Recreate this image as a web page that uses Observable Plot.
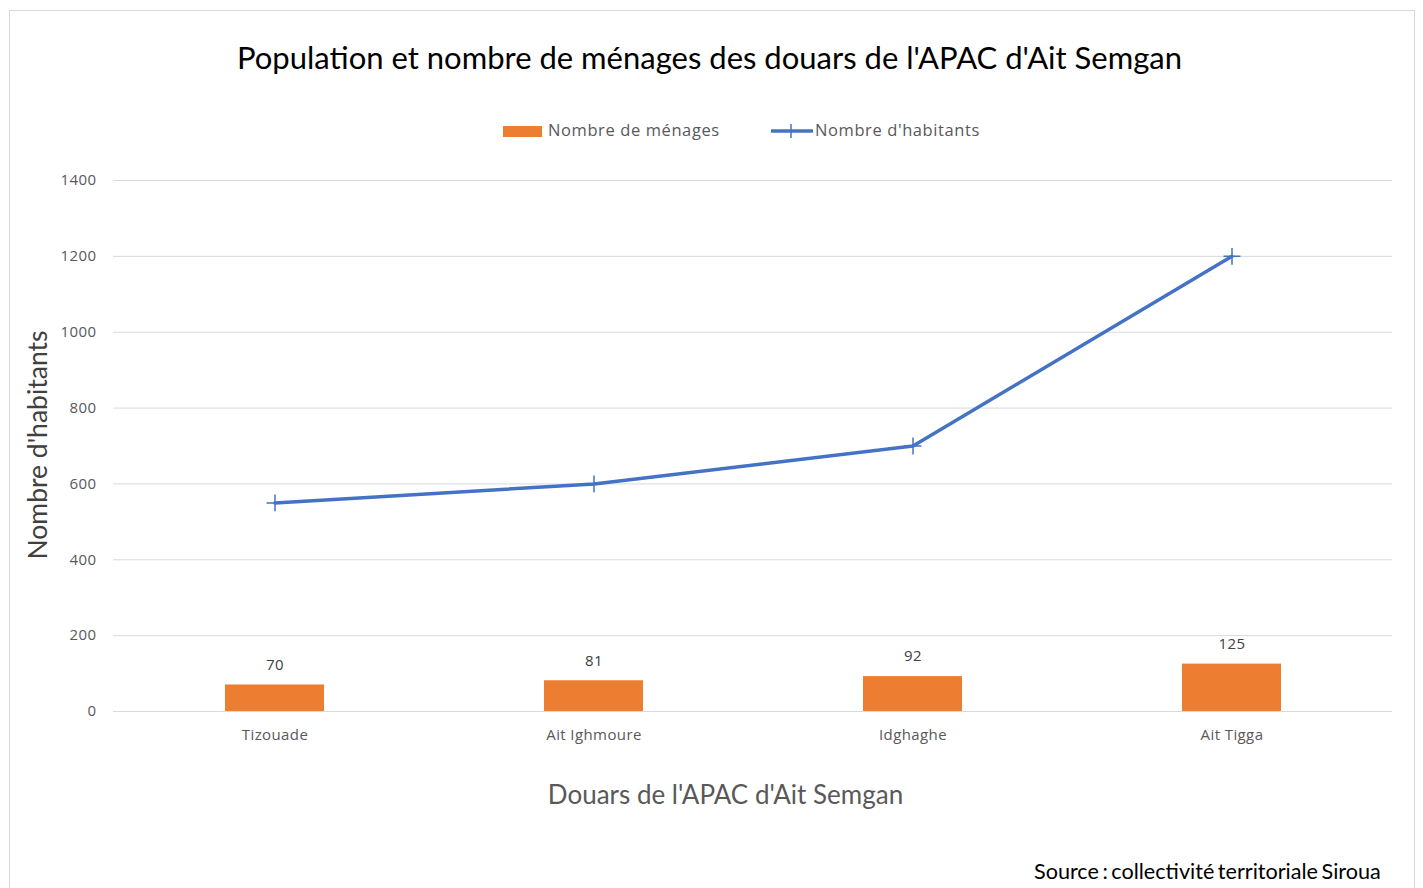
<!DOCTYPE html>
<html>
<head>
<meta charset="utf-8">
<script src="https://cdn.jsdelivr.net/npm/d3@7"></script>
<script src="https://cdn.jsdelivr.net/npm/@observablehq/plot@0.6"></script>
<style>
  html, body { margin: 0; padding: 0; background: #fff; width: 1423px; height: 888px; overflow: hidden; }
  #frame { position: absolute; left: 9px; top: 10px; width: 1406px; height: 900px; border: 1px solid #d9d9d9; box-sizing: border-box; }
  #chart { position: absolute; left: 0; top: 0; }
  .txt { position: absolute; white-space: nowrap; }
  #title { left: 0; width: 1419px; top: 38px; text-align: center; font-family: Lato, "Open Sans", sans-serif; font-size: 31px; color: #000; letter-spacing: 0px; }
  #legend { left: 503px; top: 118px; font-family: "Open Sans", sans-serif; font-size: 16.5px; letter-spacing: 0.6px; color: #595959; height: 24px; }
  #ytitle { left: 37px; top: 445px; transform: translate(-50%, -50%) rotate(-90deg); font-family: Lato, "Open Sans", sans-serif; font-size: 26.5px; color: #404040; }
  #xtitle { left: 0; width: 1451px; top: 778px; text-align: center; font-family: Lato, "Open Sans", sans-serif; font-size: 26px; color: #595959; }
  #source { left: 1034px; top: 859px; line-height: 24px; font-family: Lato, "Open Sans", sans-serif; font-size: 21.6px; color: #000; word-spacing: -2px; }
  .sw { position: absolute; }
</style>
</head>
<body>
<div id="frame"></div>
<div id="chart"></div>
<div class="txt" id="title">Population et nombre de ménages des douars de l'APAC d'Ait Semgan</div>
<div class="txt" id="legend"></div>
<div class="txt" id="ytitle">Nombre d'habitants</div>
<div class="txt" id="xtitle">Douars de l'APAC d'Ait Semgan</div>
<div class="txt" id="source">Source : collectivité territoriale Siroua</div>
<script>
const douars = ["Tizouade", "Ait Ighmoure", "Idghaghe", "Ait Tigga"];
const menages = [70, 81, 92, 125];
const habitants = [550, 600, 700, 1200];
const yTicks = [0, 200, 400, 600, 800, 1000, 1200, 1400];
const seriesNames = ["Nombre de ménages", "Nombre d'habitants"];
const barColor = "#ED7D31";
const lineColor = "#4472C4";

const table = douars.map((d, i) => ({douar: d, menages: menages[i], habitants: habitants[i]}));

const chart = Plot.plot({
  width: 1423,
  height: 888,
  marginLeft: 113,
  marginRight: 31,
  marginTop: 180,
  marginBottom: 177,
  x: {type: "band", domain: douars, paddingInner: 0.69, paddingOuter: 0.345, label: null},
  y: {domain: [0, 1400], label: null},
  style: {fontFamily: "'Open Sans', sans-serif", fontSize: "15px", letterSpacing: "0.4px", color: "#595959", background: "transparent", overflow: "visible"},
  marks: [
    Plot.gridY(yTicks, {stroke: "#d9d9d9", strokeOpacity: 1, strokeWidth: 1}),
    Plot.axisY(yTicks, {tickSize: 0, tickPadding: 17, label: null, fill: "#595959", tickFormat: d => String(d)}),
    Plot.axisX({tickSize: 0, tickPadding: 18, label: null, fill: "#595959"}),
    Plot.barY(table, {x: "douar", y: "menages", fill: barColor}),
    Plot.text(table, {x: "douar", y: "menages", text: d => String(d.menages), dy: -20, fill: "#404040", fontSize: 15}),
    Plot.line(table, {x: "douar", y: "habitants", stroke: lineColor, strokeWidth: 3.5}),
    Plot.dot(table, {x: "douar", y: "habitants", symbol: "plus", r: 5.5, stroke: lineColor, strokeWidth: 1.5})
  ]
});
document.getElementById("chart").appendChild(chart);

// legend
const legend = document.getElementById("legend");
legend.innerHTML =
  `<span class="sw" style="left:0;top:8px;width:39px;height:11px;background:${barColor}"></span>` +
  `<span class="sw" style="left:45px;top:0">${seriesNames[0]}</span>` +
  `<svg class="sw" style="left:268px;top:3px" width="42" height="20"><line x1="0" x2="42" y1="10" y2="10" stroke="${lineColor}" stroke-width="3.5"/><line x1="20" x2="20" y1="3" y2="17" stroke="${lineColor}" stroke-width="1.5"/></svg>` +
  `<span class="sw" style="left:312px;top:0">${seriesNames[1]}</span>`;
</script>
</body>
</html>
